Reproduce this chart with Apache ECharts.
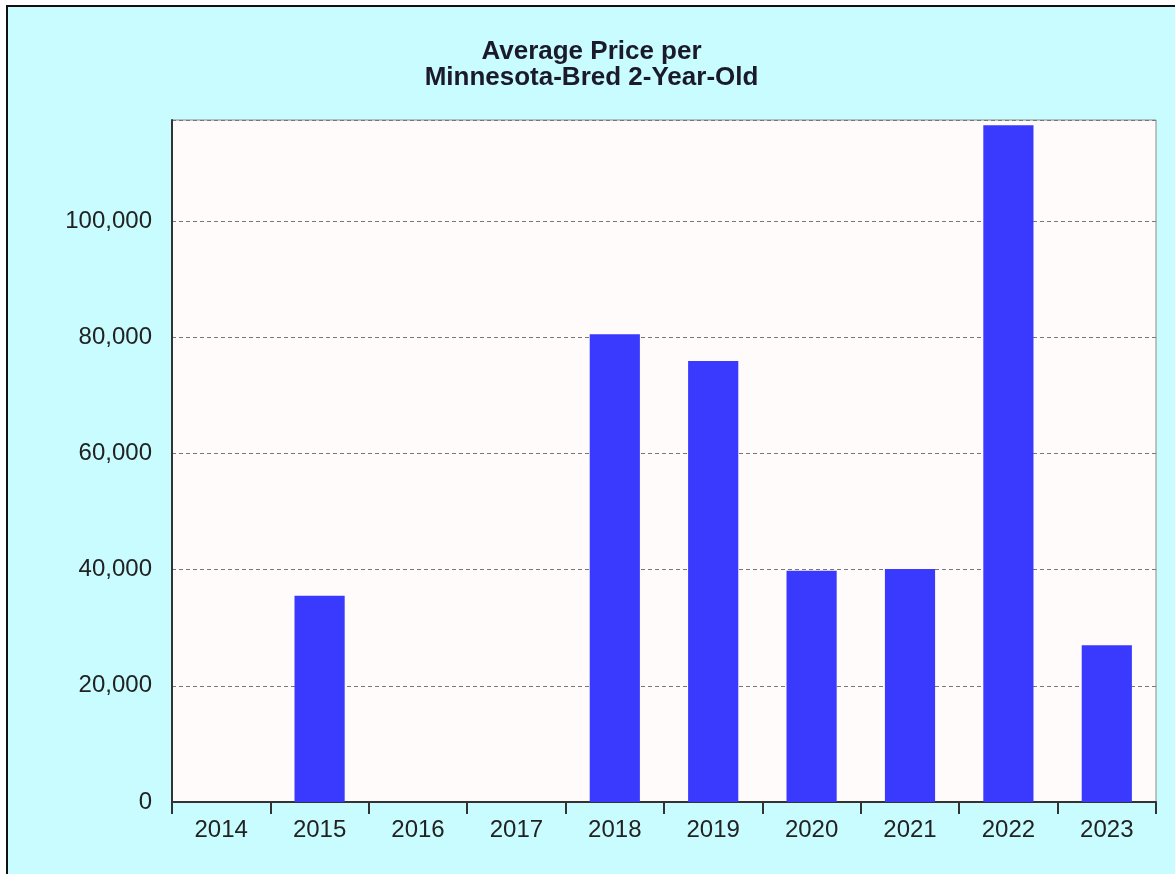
<!DOCTYPE html>
<html>
<head>
<meta charset="utf-8">
<script src="https://cdn.jsdelivr.net/npm/echarts@6/dist/echarts.min.js"></script>
<style>
  html, body { margin: 0; padding: 0; background: #c8fcff; }
  #frame {
    position: absolute; left: 0; top: 0; width: 1175px; height: 874px;
    box-sizing: border-box;
    border-left: 6px solid #fff; border-top: 5px solid #fff;
  }
  #chart {
    width: 100%; height: 100%;
    box-sizing: border-box;
    border-left: 2px solid #111; border-top: 2px solid #111;
  }
</style>
</head>
<body>
<div id="frame"><div id="chart"></div></div>
<script>
const years = ['2014', '2015', '2016', '2017', '2018', '2019', '2020', '2021', '2022', '2023']
const avgPrice = [null, 35500, null, null, 80500, 75900, 39800, 40100, 116500, 27000]
const titleLines = ['Average Price per', 'Minnesota-Bred 2-Year-Old']

const chart = echarts.init(document.getElementById('chart'))

chart.setOption({
  backgroundColor: '#c8fcff',
  animation: false,
  title: {
    text: titleLines.join('\n'),
    left: 'center',
    top: 27,
    textStyle: {
      fontFamily: 'Liberation Sans, Arial, sans-serif',
      fontSize: 26,
      fontWeight: 'bold',
      color: '#1a1a2a',
      lineHeight: 26
    }
  },
  grid: {
    left: 164, top: 113, right: 19, bottom: 72,
    show: true,
    backgroundColor: '#fffbfb',
    borderColor: '#8a8a8a',
    borderWidth: 1
  },
  xAxis: {
    type: 'category',
    data: years,
    axisLine: { lineStyle: { color: '#333', width: 2 } },
    axisTick: { show: true, length: 12, lineStyle: { color: '#333', width: 2 } },
    axisLabel: {
      color: '#222', fontSize: 24, margin: 16,
      fontFamily: 'Liberation Sans, Arial, sans-serif'
    }
  },
  yAxis: {
    type: 'value',
    min: 0,
    max: 117400,
    interval: 20000,
    axisLine: { show: true, lineStyle: { color: '#333', width: 2 } },
    axisTick: { show: false },
    axisLabel: {
      color: '#222', fontSize: 24, margin: 20,
      fontFamily: 'Liberation Sans, Arial, sans-serif',
      showMaxLabel: false,
      formatter: v => (v % 20000 === 0 ? v.toLocaleString('en-US') : '')
    },
    splitLine: { lineStyle: { color: '#777', type: [4, 3], width: 1 } }
  },
  series: [{
    type: 'bar',
    data: avgPrice,
    barWidth: '51%',
    itemStyle: { color: '#3a3aff' }
  }]
})
</script>
</body>
</html>
